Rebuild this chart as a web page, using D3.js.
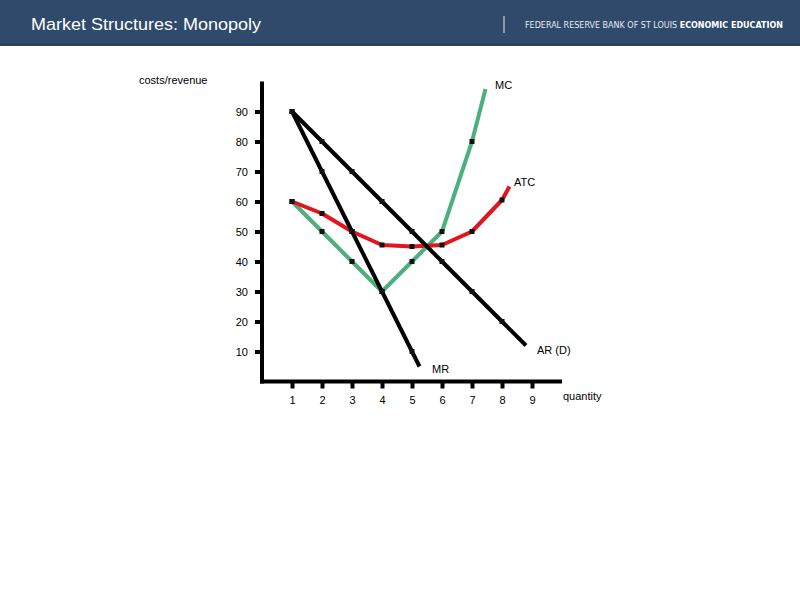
<!DOCTYPE html>
<html><head><meta charset="utf-8">
<script src="https://cdn.jsdelivr.net/npm/d3@7"></script>
<style>body{margin:0;background:#fff;}svg{display:block;font-family:"Liberation Sans",Arial,sans-serif;}</style>
</head><body>
<svg id="c" width="800" height="600"></svg>
<script>
const title = "Market Structures: Monopoly";
const logoLight = "FEDERAL RESERVE BANK OF ST LOUIS ";
const logoBold = "ECONOMIC EDUCATION";
const yTicks = [10,20,30,40,50,60,70,80,90];
const xTicks = [1,2,3,4,5,6,7,8,9];
// series: [quantity, value]
const arX = [1,2,3,4,5,6,7,8,8.8];
const arY = [90,80,70,60,50,40,30,20,12];
const arMarked = [1,2,3,4,5,6,7,8];
const mrX = [1,2,3,4,5,5.25];
const mrY = [90,70,50,30,10,5];
const mrMarked = [1,2,3,4,5];
const mcX = [1,2,3,4,5,6,7,7.45];
const mcY = [60,50,40,30,40,50,80,97.5];
const mcMarked = [1,2,3,4,5,6,7];
const atcX = [1,2,3,4,5,6,7,8,8.25];
const atcY = [60,56,50,45.5,45,45.5,50,60.5,65];
const atcMarked = [1,2,3,4,5,6,7,8];

const svg = d3.select("#c");
// header
svg.append("rect").attr("x",0).attr("y",0).attr("width",800).attr("height",46).attr("fill","#2f4a6a");
svg.append("rect").attr("x",0).attr("y",43).attr("width",800).attr("height",3).attr("fill","#2a4262");
svg.append("text").attr("x",31).attr("y",30).attr("fill","#fff").attr("font-size",17)
  .attr("textLength",230).attr("lengthAdjust","spacingAndGlyphs").text(title);
svg.append("line").attr("x1",504).attr("x2",504).attr("y1",16).attr("y2",33).attr("stroke","#c8d2de").attr("stroke-width",1.2);
const lt = svg.append("text").attr("x",525).attr("y",28).attr("fill","#e6ebf1").attr("font-size",8.2).attr("font-family","'DejaVu Sans',sans-serif").attr("textLength",258).attr("lengthAdjust","spacingAndGlyphs");
lt.append("tspan").text(logoLight);
lt.append("tspan").attr("font-weight","bold").attr("fill","#fff").text(logoBold);

const x = d3.scaleLinear().domain([0,10]).range([262,562]);
const y = d3.scaleLinear().domain([0,100]).range([381.5,81.5]);

// axes
const yAx = svg.append("g").attr("transform","translate(262,0)")
  .call(d3.axisLeft(y).tickValues(yTicks).tickSize(7).tickPadding(7).tickFormat(d3.format("d")));
const xAx = svg.append("g").attr("transform","translate(0,381.5)")
  .call(d3.axisBottom(x).tickValues(xTicks).tickSize(7).tickPadding(8).tickFormat(d3.format("d")));
[yAx,xAx].forEach(g=>{
  g.select(".domain").remove();
  g.selectAll(".tick line").attr("stroke","#000").attr("stroke-width",4);
  g.selectAll(".tick text").attr("font-size",11).attr("fill","#000").attr("font-family","'Liberation Sans',Arial,sans-serif");
});
svg.append("line").attr("x1",x(0)).attr("x2",x(0)).attr("y1",y(100)).attr("y2",y(0)+2).attr("stroke","#000").attr("stroke-width",4);
svg.append("line").attr("x1",x(0)-2).attr("x2",x(10)).attr("y1",y(0)).attr("y2",y(0)).attr("stroke","#000").attr("stroke-width",4);

const line = d3.line().x(d=>x(d[0])).y(d=>y(d[1]));
function series(xs, ys, marked, color){
  const pts = xs.map((v,i)=>[v,ys[i]]);
  svg.append("path").datum(pts).attr("d",line).attr("fill","none").attr("stroke",color)
    .attr("stroke-width",4).attr("stroke-linejoin","round").attr("stroke-linecap","butt");
  svg.append("g").selectAll("rect").data(pts.filter(p=>marked.includes(p[0]))).join("rect")
    .attr("x",d=>x(d[0])-2.5).attr("y",d=>y(d[1])-2.5).attr("width",5).attr("height",5).attr("fill","#111");
}
series(mcX, mcY, mcMarked, "#4caf7d");
series(atcX, atcY, atcMarked, "#e3141b");
series(mrX, mrY, mrMarked, "#000");
series(arX, arY, arMarked, "#000");

// labels
const lab = (t,xx,yy)=>svg.append("text").attr("x",xx).attr("y",yy).attr("font-size",11).attr("fill","#000").text(t);
lab("costs/revenue",139,84);
lab("MC",495,89);
lab("ATC",514,186);
lab("AR (D)",537,354);
lab("MR",432,373);
lab("quantity",563,400);
</script>
</body></html>
